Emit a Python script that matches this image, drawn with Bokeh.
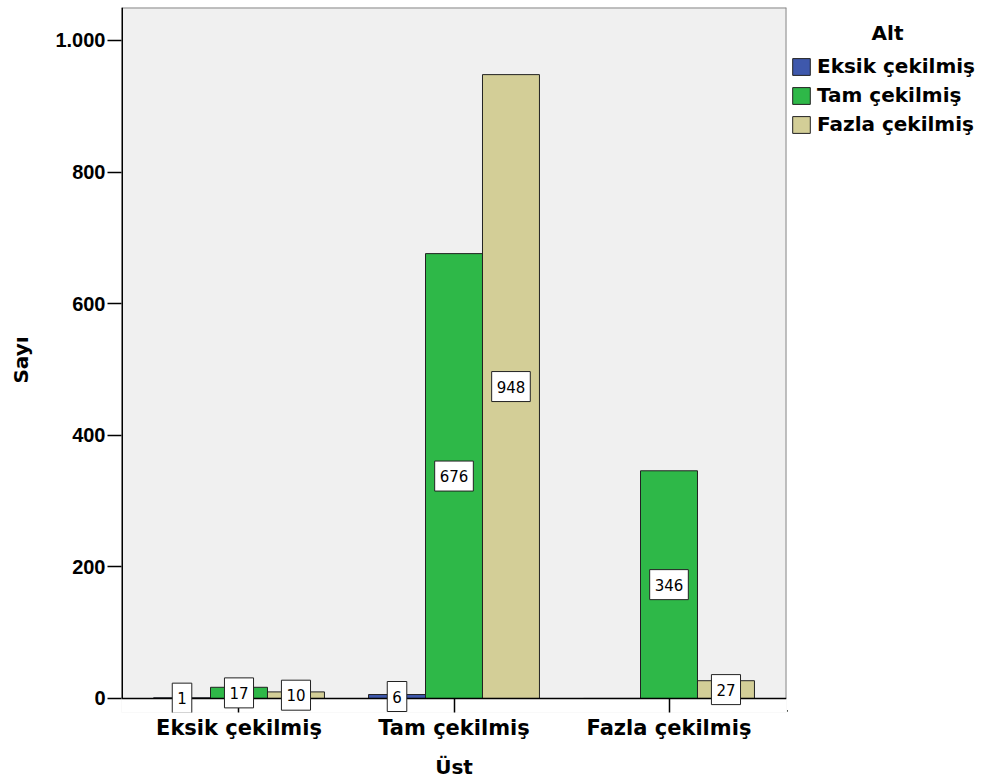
from bokeh.plotting import figure
from bokeh.layouts import row
from bokeh.models import (ColumnDataSource, Range1d, Label, FixedTicker, Legend, LegendItem,
                          BoxAnnotation, Span)
from bokeh.embed import file_html
from bokeh.resources import INLINE

categories = ["Eksik çekilmiş", "Tam çekilmiş", "Fazla çekilmiş"]
series_names = ["Eksik çekilmiş", "Tam çekilmiş", "Fazla çekilmiş"]
eksik = [1, 6, 0]
tam = [17, 676, 346]
fazla = [10, 948, 27]
series_values = [eksik, tam, fazla]
colors = ["#3E58AC", "#2EB848", "#D3CE97"]
y_ticks = [0, 200, 400, 600, 800, 1000]
y_tick_labels = {0: "0", 200: "200", 400: "400", 600: "600", 800: "800", 1000: "1.000"}

FONT = "DejaVu Sans"
TICKFONT = "Liberation Sans"
H = 780

X0, X1 = -0.5465, 2.5465
Y0, Y1 = -21.3, 1050   # a strip below zero lets value boxes overhang the axis

p = figure(x_range=Range1d(X0, X1), y_range=Range1d(Y0, Y1),
           frame_width=665, frame_height=705,
           min_border_left=121, min_border_right=1, min_border_top=7, min_border_bottom=H - 712,
           output_backend="svg", toolbar_location=None,
           background_fill_color="#F0F0F0", border_fill_color="white")
p.outline_line_color = None
p.xgrid.visible = False
p.ygrid.visible = False

# white strip below the zero line
p.add_layout(BoxAnnotation(top=0, fill_color="white", fill_alpha=1.0,
                           line_color=None, level="underlay"))
# frame border: gray top / right, black left axis line
p.segment(x0=[X0, X1], y0=[Y1, 0], x1=[X1, X1], y1=[Y1, Y1], line_color="#888888", line_width=2)
p.segment(x0=[X0], y0=[0], x1=[X0], y1=[Y1], line_color="black", line_width=3)

bw = 0.265
offsets = [-bw, 0.0, bw]
xs = list(range(len(categories)))
has_pad = "padding" in Label.properties()
for name, vals, col, off in zip(series_names, series_values, colors, offsets):
    src = ColumnDataSource(dict(x=[i + off for i in xs], top=vals))
    p.vbar(x="x", top="top", width=bw, source=src,
           fill_color=col, line_color="#222222", line_width=1)

# x axis line at zero
p.add_layout(Span(location=0, dimension="width", line_color="black", line_width=1.5))

for name, vals, col, off in zip(series_names, series_values, colors, offsets):
    for i, v in zip(xs, vals):
        if v <= 0:
            continue
        kw = dict(padding=(5, 9)) if has_pad else {}
        lab = Label(x=i + off, y=v / 2, text=str(v), text_align="center",
                    text_baseline="middle", text_font=FONT, text_font_size="15px",
                    text_color="black", background_fill_color="white",
                    border_line_color="#222222", border_line_width=1, **kw)
        p.add_layout(lab)

# axes
p.xaxis.ticker = FixedTicker(ticks=xs)
p.xaxis.major_label_overrides = {i: c for i, c in zip(xs, categories)}
p.yaxis.ticker = FixedTicker(ticks=y_ticks)
p.yaxis.major_label_overrides = y_tick_labels
for ax in (p.xaxis[0], p.yaxis[0]):
    ax.axis_line_color = None
    ax.major_tick_line_color = "black"
    ax.major_tick_line_width = 1.5
    ax.minor_tick_line_color = None
    ax.major_label_text_font_style = "bold"
    ax.major_label_text_color = "black"
    ax.axis_label_text_font = FONT
    ax.axis_label_text_font_style = "bold"
    ax.axis_label_text_font_size = "20px"
    ax.axis_label_text_color = "black"
p.xaxis.major_tick_in = 14
p.xaxis.major_tick_out = 0
p.yaxis.major_tick_in = 0
p.yaxis.major_tick_out = 14
p.yaxis.major_label_text_font = TICKFONT
p.yaxis.major_label_text_font_size = "20px"
p.xaxis.major_label_text_font = FONT
p.xaxis.major_label_text_font_size = "21px"
p.yaxis.major_label_standoff = 2
p.xaxis.major_label_standoff = 3
p.yaxis.axis_label = "Sayı"
p.xaxis.axis_label = "Üst"
p.yaxis.axis_label_standoff = 19
p.xaxis.axis_label_standoff = 12

# legend panel
W2 = 984 - 787
p2 = figure(width=W2, height=H, x_range=Range1d(0, W2), y_range=Range1d(0, H),
            x_axis_type=None, y_axis_type=None, output_backend="svg", toolbar_location=None,
            min_border=0, outline_line_color=None, background_fill_color="white",
            border_fill_color="white")
p2.xgrid.visible = False
p2.ygrid.visible = False
items = []
for name, col in zip(series_names, colors):
    dr = p2.vbar(x=[-1000], top=[1], width=1, fill_color=col, line_color="#222222", line_width=1)
    items.append(LegendItem(label=name, renderers=[dr]))
legend = Legend(items=items, location=(3, H - 205))
legend.border_line_color = None
legend.background_fill_alpha = 0
legend.padding = 0
legend.margin = 0
legend.spacing = 5
legend.glyph_width = 22
legend.glyph_height = 21
legend.label_standoff = 5
legend.label_text_font = FONT
legend.label_text_font_style = "bold"
legend.label_text_font_size = "20px"
legend.label_text_color = "black"
legend.label_height = 21
p2.add_layout(legend)

title = Label(x=887 - 787, y=H - 28, text="Alt", text_align="center",
              text_baseline="middle", text_font=FONT, text_font_style="bold",
              text_font_size="20px", text_color="black")
p2.add_layout(title)

layout = row(p, p2, spacing=0)
open("out.html", "w").write(file_html(layout, INLINE))
